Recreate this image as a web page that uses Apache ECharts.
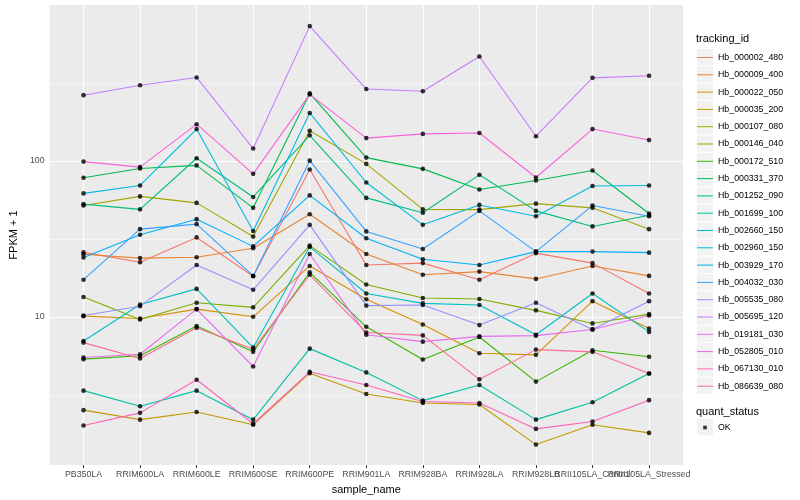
<!DOCTYPE html>
<html><head><meta charset="utf-8">
<script src="https://cdn.jsdelivr.net/npm/echarts@6/dist/echarts.min.js"></script>
<style>html,body{margin:0;padding:0;background:#fff}#c{width:800px;height:500px}</style>
</head><body><div id="c"></div>
<script>
// ---------- data ----------
const categories = ['PB350LA','RRIM600LA','RRIM600LE','RRIM600SE','RRIM600PE','RRIM901LA','RRIM928BA','RRIM928LA','RRIM928LB','RRII105LA_Control','RRII105LA_Stressed'];
const trackingIds = ['Hb_000002_480','Hb_000009_400','Hb_000022_050','Hb_000035_200','Hb_000107_080','Hb_000146_040','Hb_000172_510','Hb_000331_370','Hb_001252_090','Hb_001699_100','Hb_002660_150','Hb_002960_150','Hb_003929_170','Hb_004032_030','Hb_005535_080','Hb_005695_120','Hb_019181_030','Hb_052805_010','Hb_067130_010','Hb_086639_080'];
const hb_000002_480 = [25.9, 22.4, 32.3, 18.2, 88, 21.5, 22.1, 17.3, 25.6, 22.1, 14.1];
const hb_000009_400 = [25.2, 23.8, 24.1, 27.5, 45.5, 25.3, 18.6, 19.5, 17.5, 21.2, 18.3];
const hb_000022_050 = [10.1, 9.75, 11.2, 10.0, 21.2, 12.96, 8.93, 5.84, 5.70, 12.6, 8.42];
const hb_000035_200 = [2.52, 2.19, 2.45, 2.03, 4.35, 3.20, 2.80, 2.74, 1.515, 2.03, 1.80];
const hb_000107_080 = [51.7, 59.2, 53.8, 32.7, 156, 95.7, 48.9, 48.7, 53.2, 50, 36.5];
const hb_000146_040 = [13.4, 9.6, 12.3, 11.5, 28.6, 16.1, 13.2, 13.0, 11.0, 9.07, 10.4];
const hb_000172_510 = [5.35, 5.62, 8.72, 5.96, 19.3, 8.63, 5.32, 7.42, 3.84, 6.10, 5.54];
const hb_000331_370 = [78, 89.3, 93.6, 50, 271, 105, 88.9, 65.6, 74.9, 86.8, 46];
const hb_001252_090 = [52.8, 48.9, 104, 58.7, 146, 57.9, 46.5, 81.4, 47.8, 38, 44.8];
const hb_001699_100 = [3.36, 2.67, 3.36, 2.19, 6.25, 4.40, 2.90, 3.65, 2.19, 2.83, 4.33];
const hb_002660_150 = [7.0, 12.0, 15.1, 6.35, 28.1, 14.1, 12.2, 11.9, 7.68, 14.1, 8.0];
const hb_002960_150 = [61.9, 69.6, 160, 35.5, 203, 72.7, 38.9, 52.2, 44.2, 69, 69.6];
const hb_003929_170 = [24, 33.6, 42.3, 28.3, 60.1, 31.9, 23.4, 21.5, 26.2, 26.2, 25.8];
const hb_004032_030 = [17.3, 36.5, 39.3, 18.3, 100.4, 35.3, 27.2, 47.8, 26.2, 51.7, 44.2];
const hb_005535_080 = [10.2, 11.7, 21.5, 14.9, 38.9, 11.8, 11.9, 8.85, 12.3, 8.3, 12.6];
const hb_005695_120 = [264, 306, 343, 120, 732, 289, 280, 467, 144, 341, 352];
const hb_019181_030 = [5.48, 5.75, 11.2, 4.80, 25.3, 7.68, 6.93, 7.49, 7.57, 8.3, 10.2];
const hb_052805_010 = [99, 91.2, 172, 82.6, 267, 140, 149, 151, 78.3, 160, 136];
const hb_067130_010 = [2.01, 2.42, 3.95, 2.06, 4.44, 3.65, 2.86, 2.80, 1.91, 2.13, 2.92];
const hb_086639_080 = [6.83, 5.40, 8.51, 6.19, 18.6, 7.94, 7.60, 3.97, 6.16, 5.96, 4.33];
const seriesValues = [hb_000002_480, hb_000009_400, hb_000022_050, hb_000035_200, hb_000107_080, hb_000146_040, hb_000172_510, hb_000331_370, hb_001252_090, hb_001699_100, hb_002660_150, hb_002960_150, hb_003929_170, hb_004032_030, hb_005535_080, hb_005695_120, hb_019181_030, hb_052805_010, hb_067130_010, hb_086639_080];
const statusLabel = 'OK';
const yTickValues = [10, 100];
const yMinorValues = [3.1623, 31.623, 316.23];

// ---------- style ----------
const palette = ['#F8766D','#EA8331','#D89000','#C09B00','#A3A500','#7CAE00','#39B600','#00BB4E','#00BF7D','#00C1A3','#00BFC4','#00BAE0','#00B0F6','#35A2FF','#9590FF','#C77CFF','#E76BF3','#FA62DB','#FF62BC','#FF6C91'];
const FONT = 'Liberation Sans, Arial, Helvetica, sans-serif';
const catIdx = categories.map((c, i) => i);
const evenIdx = catIdx.filter(i => i % 2 === 0);
const oddIdx = catIdx.filter(i => i % 2 === 1);
const legendLeft = 697, legendTop = 49, keyW = 16, keyH = 17, keyGap = 0.3;
const legend2Top = 419;

const lineSeries = trackingIds.map((name, s) => ({
  name: name,
  type: 'line',
  data: seriesValues[s].map((v, i) => [i, v]),
  symbol: 'none',
  lineStyle: { color: palette[s], width: 1.1 },
  itemStyle: { color: palette[s] },
  z: 2, silent: true, animation: false
}));

const points = [];
seriesValues.forEach(arr => arr.forEach((v, i) => points.push([i, v])));

const gridSeries = {
  name: '__grid', type: 'line', data: [[0, 10]], symbol: 'none',
  lineStyle: { opacity: 0, width: 0 }, silent: true, animation: false, z: 1,
  markLine: {
    silent: true, symbol: ['none', 'none'], animation: false, z: 1,
    label: { show: false },
    data: [
      ...yMinorValues.map(v => ({ yAxis: v, lineStyle: { color: '#FFFFFF', width: 0.53, type: 'solid' } })),
      ...yTickValues.map(v => ({ yAxis: v, lineStyle: { color: '#FFFFFF', width: 1.07, type: 'solid' } })),
      ...catIdx.map(i => ({ xAxis: i, lineStyle: { color: '#FFFFFF', width: 1.07, type: 'solid' } }))
    ]
  }
};

const keyBoxes = [];
for (let i = 0; i < trackingIds.length; i++) {
  keyBoxes.push({ type: 'rect', shape: { x: legendLeft, y: legendTop + i * (keyH + keyGap), width: keyW, height: keyH - 0.7 }, style: { fill: '#F2F2F2' }, silent: true, z: -1 });
}
keyBoxes.push({ type: 'rect', shape: { x: legendLeft, y: legend2Top, width: keyW, height: keyH - 0.7 }, style: { fill: '#F2F2F2' }, silent: true, z: -1 });

const xLabelStyle = { formatter: v => categories[Math.round(v)] || '', color: '#4D4D4D', fontSize: 8.8, margin: 5, hideOverlap: false, fontFamily: FONT };

const option = {
  animation: false,
  color: palette,
  textStyle: { fontFamily: FONT },
  title: [
    { text: 'tracking_id', left: 696, top: 33, padding: 0, textStyle: { fontSize: 11, fontWeight: 'normal', color: '#000', fontFamily: FONT } },
    { text: 'quant_status', left: 696, top: 406, padding: 0, textStyle: { fontSize: 11, fontWeight: 'normal', color: '#000', fontFamily: FONT } }
  ],
  grid: { left: 40, right: 117, top: 5, bottom: 32, show: true, backgroundColor: '#EBEBEB', borderWidth: 0, containLabel: false },
  xAxis: [{
    type: 'value', min: -0.6, max: 10.6, position: 'bottom',
    name: 'sample_name', nameLocation: 'middle', nameGap: 15,
    nameTextStyle: { fontSize: 11, color: '#000', fontFamily: FONT },
    axisLine: { show: false },
    axisTick: { show: true, length: 3, customValues: catIdx, lineStyle: { color: '#333333', width: 1 } },
    axisLabel: Object.assign({ customValues: evenIdx }, xLabelStyle),
    splitLine: { show: false }
  }, {
    type: 'value', min: -0.6, max: 10.6, position: 'bottom', offset: 0,
    axisLine: { show: false },
    axisTick: { show: false },
    axisLabel: Object.assign({ customValues: oddIdx }, xLabelStyle),
    splitLine: { show: false }
  }],
  yAxis: {
    type: 'log', logBase: 10, min: 1.119, max: 1000,
    name: 'FPKM + 1', nameLocation: 'middle', nameGap: 23, nameRotate: 90,
    nameTextStyle: { fontSize: 11, color: '#000', fontFamily: FONT },
    axisLine: { show: false },
    axisTick: { show: true, length: 3, customValues: yTickValues, lineStyle: { color: '#333333', width: 1 } },
    axisLabel: { customValues: yTickValues, formatter: v => String(Math.round(v)), color: '#4D4D4D', fontSize: 8.8, margin: 5, fontFamily: FONT },
    splitLine: { show: false }, minorSplitLine: { show: false }
  },
  legend: [
    {
      data: trackingIds, orient: 'vertical', left: legendLeft, top: legendTop, padding: 0,
      itemWidth: keyW, itemHeight: keyH, itemGap: keyGap, selectedMode: false,
      icon: 'path://M0,0 M16,17 M0,8 L16,8 L16,9 L0,9 Z',
      itemStyle: { borderWidth: 0 },
      textStyle: { fontSize: 8.8, color: '#000', fontFamily: FONT }
    },
    {
      data: [statusLabel], orient: 'vertical', left: legendLeft, top: legend2Top, padding: 0,
      itemWidth: keyW, itemHeight: keyH, itemGap: 0, selectedMode: false,
      icon: 'path://M0,0 M16,17 M6.2,6.7 L9.8,6.7 L9.8,10.3 L6.2,10.3 Z',
      itemStyle: { borderWidth: 0 },
      textStyle: { fontSize: 8.8, color: '#000', fontFamily: FONT }
    }
  ],
  graphic: keyBoxes,
  series: [gridSeries, ...lineSeries, {
    name: statusLabel, type: 'scatter', data: points, symbol: 'circle', symbolSize: 4.6,
    itemStyle: { color: '#000000' }, z: 3, silent: true, animation: false
  }]
};

const chart = echarts.init(document.getElementById('c'), null, { renderer: 'canvas' });
chart.setOption(option);
</script>
</body></html>
